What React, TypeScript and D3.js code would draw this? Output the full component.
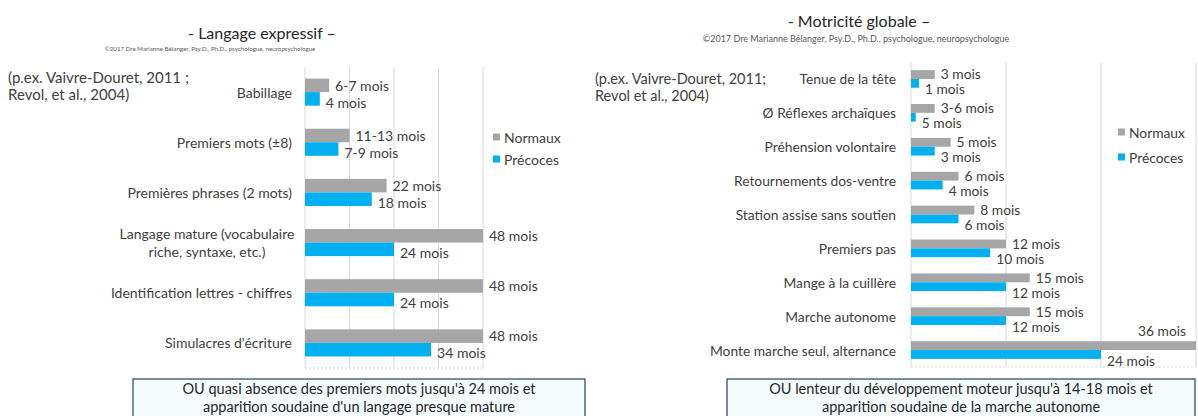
import React from "react";
import * as d3 from "d3";

const width = 1198;
const height = 416;
const font = "Lato, 'Open Sans', sans-serif";

const series = ["Normaux", "Précoces"];
const colors = ["#A6A6A6", "#00B0F0"];

// Langage expressif
const langCategories = [
  "Babillage",
  "Premiers mots (±8)",
  "Premières phrases (2 mots)",
  "Langage mature (vocabulaire\nriche, syntaxe, etc.)",
  "Identification lettres - chiffres",
  "Simulacres d'écriture"
];
const langNormaux = [6.5, 12, 22, 48, 48, 48];
const langPrecoces = [4, 9, 18, 24, 24, 34];
const langNormauxLabels = ["6-7 mois", "11-13 mois", "22 mois", "48 mois", "48 mois", "48 mois"];
const langPrecocesLabels = ["4 mois", "7-9 mois", "18 mois", "24 mois", "24 mois", "34 mois"];
const langTicks = [0, 12, 24, 36, 48];

// Motricité globale
const motCategories = [
  "Tenue de la tête",
  "Ø Réflexes archaïques",
  "Préhension volontaire",
  "Retournements dos-ventre",
  "Station assise sans soutien",
  "Premiers pas",
  "Mange à la cuillère",
  "Marche autonome",
  "Monte marche seul, alternance"
];
const motNormaux = [3, 3, 5, 6, 8, 12, 15, 15, 36];
const motPrecoces = [1, 0.6, 3, 4, 6, 10, 12, 12, 24];
const motNormauxLabels = ["3 mois", "3-6 mois", "5 mois", "6 mois", "8 mois", "12 mois", "15 mois", "15 mois", "36 mois"];
const motPrecocesLabels = ["1 mois", "5 mois", "3 mois", "4 mois", "6 mois", "10 mois", "12 mois", "12 mois", "24 mois"];
const motTicks = [0, 12, 24, 36];

type PanelProps = {
  categories: string[];
  values: number[][];
  labels: string[][];
  ticks: number[];
  x0: number;
  x1: number;
  y0: number;
  y1: number;
  padInner: number;
  labelRight: number;
  multiCenter: number;
  labelDy: number[];
  fontSize: number;
  legendX: number;
  legendY: number[];
};

function Panel(p: PanelProps) {
  const x = d3
    .scaleLinear()
    .domain([0, p.ticks[p.ticks.length - 1]])
    .range([p.x0, p.x1]);
  const y = d3
    .scaleBand()
    .domain(p.categories)
    .range([p.y0, p.y1])
    .paddingInner(p.padInner)
    .paddingOuter(p.padInner / 2);
  const ys = d3.scaleBand().domain(series).range([0, y.bandwidth()]);
  const fs = p.fontSize;

  return (
    <g>
      {p.ticks.map(t => (
        <line key={t} x1={x(t)} x2={x(t)} y1={p.y0} y2={p.y1} stroke="#D9D9D9" />
      ))}
      <line x1={p.x0} x2={p.x1} y1={p.y1} y2={p.y1} stroke="#D9D9D9" strokeDasharray="2,2" />

      {p.categories.map((c, i) => {
        const top = y(c) as number;
        const mid = top + y.bandwidth() / 2;
        const lines = c.split("\n");
        return (
          <g key={c}>
            {lines.length === 1 ? (
              <text x={p.labelRight} y={mid} textAnchor="end" dominantBaseline="central" fontSize={fs} fill="#404040">
                {c}
              </text>
            ) : (
              lines.map((l, k) => (
                <text key={k} x={p.multiCenter} y={mid + (k - (lines.length - 1) / 2) * 18} textAnchor="middle" dominantBaseline="central" fontSize={fs} fill="#404040">
                  {l}
                </text>
              ))
            )}
            {series.map((s, si) => {
              const v = p.values[si][i];
              const by = top + (ys(s) as number);
              const end = x(v);
              const lab = p.labels[si][i];
              const overflow = end + 60 > width;
              return (
                <g key={s}>
                  <rect x={p.x0} y={by} width={end - p.x0} height={ys.bandwidth()} fill={colors[si]} />
                  <text
                    x={overflow ? width - 12 : end + 6}
                    y={overflow ? by - 11 : mid + p.labelDy[si]}
                    textAnchor={overflow ? "end" : "start"}
                    dominantBaseline="central"
                    fontSize={fs}
                    fill="#404040"
                  >
                    {lab}
                  </text>
                </g>
              );
            })}
          </g>
        );
      })}

      {series.map((s, si) => (
        <g key={s}>
          <rect x={p.legendX} y={p.legendY[si] - 3.5} width={7} height={7} fill={colors[si]} />
          <text x={p.legendX + 11} y={p.legendY[si]} dominantBaseline="central" fontSize={fs} fill="#404040">
            {s}
          </text>
        </g>
      ))}
    </g>
  );
}

function NoteBox({ x, w, lines }: { x: number; w: number; lines: string[] }) {
  return (
    <g>
      <rect x={x} y={379} width={w} height={60} fill="#F4FCFE" stroke="#34506A" strokeWidth={1.3} />
      {lines.map((l, i) => (
        <text key={i} x={x + w / 2} y={388 + i * 18} textAnchor="middle" dominantBaseline="central" fontSize={14.5} fill="#262626">
          {l}
        </text>
      ))}
    </g>
  );
}

export default function App() {
  return (
    <svg
      width={width}
      height={height}
      style={{ position: "absolute", left: 0, top: 0, background: "#fff" }}
      fontFamily={font}
    >
      {/* left: langage */}
      <text x={262} y={32} textAnchor="middle" dominantBaseline="central" fontSize={16} fill="#262626">
        - Langage expressif –
      </text>
      <text x={210} y={48} textAnchor="middle" dominantBaseline="central" fontSize={6.2} fill="#595959">
        ©2017 Dre Marianne Bélanger, Psy.D., Ph.D., psychologue, neuropsychologue
      </text>
      <text x={8} y={77} dominantBaseline="central" fontSize={15} fill="#404040">(p.ex. Vaivre-Douret, 2011 ;</text>
      <text x={8} y={94} dominantBaseline="central" fontSize={15} fill="#404040">Revol, et al., 2004)</text>
      <Panel
        categories={langCategories}
        values={[langNormaux, langPrecoces]}
        labels={[langNormauxLabels, langPrecocesLabels]}
        ticks={langTicks}
        x0={305}
        x1={483}
        y0={67}
        y1={368}
        padInner={0.46}
        labelRight={292}
        multiCenter={207}
        labelDy={[-7, 10]}
        fontSize={14}
        legendX={493}
        legendY={[137, 159]}
      />
      <NoteBox
        x={133}
        w={452}
        lines={["OU quasi absence des premiers mots jusqu'à 24 mois et", "apparition soudaine d'un langage presque mature"]}
      />

      {/* right: motricite */}
      <text x={859} y={20} textAnchor="middle" dominantBaseline="central" fontSize={16} fill="#262626">
        - Motricité globale –
      </text>
      <text x={856} y={38} textAnchor="middle" dominantBaseline="central" fontSize={9} fill="#595959">
        ©2017 Dre Marianne Bélanger, Psy.D., Ph.D., psychologue, neuropsychologue
      </text>
      <text x={595} y={78} dominantBaseline="central" fontSize={14.5} fill="#404040">(p.ex. Vaivre-Douret, 2011;</text>
      <text x={595} y={95} dominantBaseline="central" fontSize={14.5} fill="#404040">Revol et al., 2004)</text>
      <Panel
        categories={motCategories}
        values={[motNormaux, motPrecoces]}
        labels={[motNormauxLabels, motPrecocesLabels]}
        ticks={motTicks}
        x0={911}
        x1={1196}
        y0={62}
        y1={367}
        padInner={0.48}
        labelRight={896}
        multiCenter={800}
        labelDy={[-5, 10]}
        fontSize={13.8}
        legendX={1118}
        legendY={[132, 157]}
      />
      <NoteBox
        x={727}
        w={468}
        lines={["OU lenteur du développement moteur jusqu'à 14-18 mois et", "apparition soudaine de la marche autonome"]}
      />
    </svg>
  );
}
